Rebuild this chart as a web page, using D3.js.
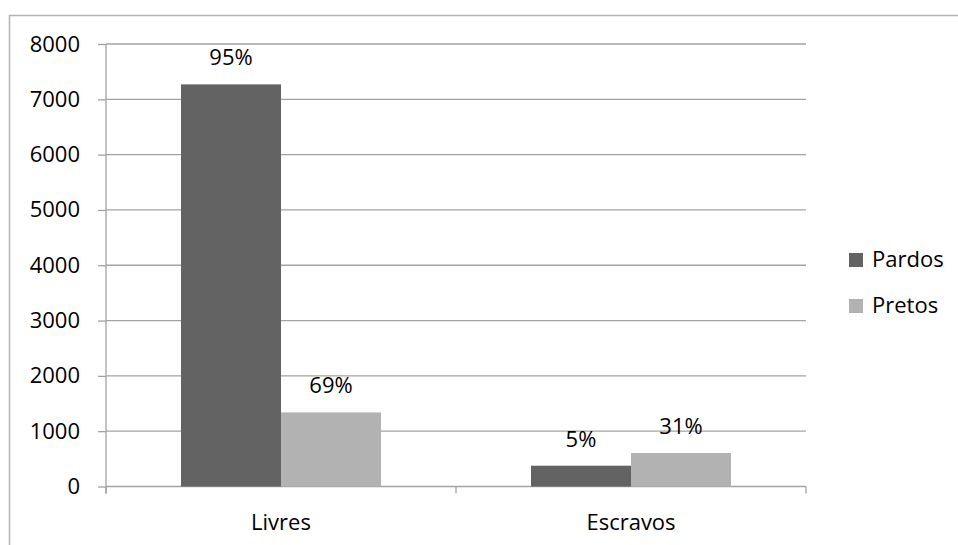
<!DOCTYPE html>
<html>
<head>
<meta charset="utf-8">
<script src="https://cdn.jsdelivr.net/npm/d3@7"></script>
<style>
  html, body { margin: 0; padding: 0; background: #fff; }
  svg { display: block; font-family: "Open Sans", sans-serif; }
</style>
</head>
<body>
<svg id="chart" width="958" height="545"></svg>
<script>
// Population by condition (free / enslaved) and colour
const categories = ["Livres", "Escravos"];
const seriesNames = ["Pardos", "Pretos"];
const pardosValues = [7270, 376];
const pretosValues = [1340, 605];
const pardosLabels = ["95%", "5%"];
const pretosLabels = ["69%", "31%"];
const yTicks = [0, 1000, 2000, 3000, 4000, 5000, 6000, 7000, 8000];
const colors = ["#636363", "#b2b2b2"];

const series = [
  { name: seriesNames[0], values: pardosValues, labels: pardosLabels, color: colors[0] },
  { name: seriesNames[1], values: pretosValues, labels: pretosLabels, color: colors[1] }
];

const svg = d3.select("#chart");
const plot = { left: 106, right: 806, top: 44, bottom: 486.5 };
const gridColor = "#a3a3a3";
const fontSize = 22;

// Outer frame
svg.append("rect")
  .attr("x", 9.5).attr("y", 15.5)
  .attr("width", 960).attr("height", 540)
  .attr("fill", "none").attr("stroke", "#b4b4b4").attr("stroke-width", 1.5);

const y = d3.scaleLinear().domain([0, 8000]).range([plot.bottom, plot.top]);
const x0 = d3.scaleBand().domain(categories).range([plot.left, plot.right]).paddingInner(0).paddingOuter(0);
const x1 = d3.scaleBand().domain(seriesNames).range([0, x0.bandwidth()]).paddingInner(0).paddingOuter(0.75);

// Horizontal gridlines with tick stubs to the left of the axis
const yAxis = d3.axisLeft(y).tickValues(yTicks).tickSize(8).tickPadding(18)
  .tickFormat(d3.format("d"));
const gy = svg.append("g").attr("transform", `translate(${plot.left},0)`).call(yAxis);
gy.select(".domain").remove();
gy.selectAll(".tick line").attr("stroke", gridColor).attr("stroke-width", 1.3);
gy.selectAll(".tick text").attr("font-size", fontSize).attr("fill", "#000")
  .attr("font-family", "'Open Sans', sans-serif");

svg.append("g").selectAll("line.grid")
  .data(yTicks)
  .join("line")
  .attr("x1", plot.left).attr("x2", plot.right)
  .attr("y1", d => y(d)).attr("y2", d => y(d))
  .attr("stroke", gridColor).attr("stroke-width", 1.3);

// Bars
const groups = svg.append("g").selectAll("g")
  .data(categories)
  .join("g")
  .attr("transform", c => `translate(${x0(c)},0)`);

groups.selectAll("rect")
  .data((c, i) => series.map(s => ({ s, v: s.values[i], label: s.labels[i] })))
  .join("rect")
  .attr("x", d => x1(d.s.name))
  .attr("width", x1.bandwidth())
  .attr("y", d => y(d.v))
  .attr("height", d => y(0) - y(d.v))
  .attr("fill", d => d.s.color);

groups.selectAll("text")
  .data((c, i) => series.map(s => ({ s, v: s.values[i], label: s.labels[i] })))
  .join("text")
  .attr("x", d => x1(d.s.name) + x1.bandwidth() / 2)
  .attr("y", d => y(d.v) - 19)
  .attr("text-anchor", "middle")
  .attr("font-size", fontSize)
  .attr("fill", "#000")
  .text(d => d.label);

// Vertical axis line and category axis
svg.append("line")
  .attr("x1", plot.left).attr("x2", plot.left)
  .attr("y1", plot.top).attr("y2", plot.bottom + 7)
  .attr("stroke", gridColor).attr("stroke-width", 1.3);

const xAxis = d3.axisBottom(x0).tickSize(0).tickPadding(28);
const gx = svg.append("g").attr("transform", `translate(0,${plot.bottom})`).call(xAxis);
gx.select(".domain").remove();
gx.selectAll(".tick text").attr("font-size", fontSize).attr("fill", "#000")
  .attr("font-family", "'Open Sans', sans-serif");

// Category separators below the baseline
const sepX = [plot.left, ...categories.map(c => x0(c) + x0.bandwidth())];
svg.append("g").selectAll("line")
  .data(sepX)
  .join("line")
  .attr("x1", d => d).attr("x2", d => d)
  .attr("y1", plot.bottom).attr("y2", plot.bottom + 7)
  .attr("stroke", gridColor).attr("stroke-width", 1.3);

// Legend
const legend = svg.append("g").attr("transform", "translate(849,253)");
const items = legend.selectAll("g")
  .data(series)
  .join("g")
  .attr("transform", (d, i) => `translate(0,${i * 46})`);
items.append("rect")
  .attr("width", 14).attr("height", 14)
  .attr("fill", d => d.color);
items.append("text")
  .attr("x", 23).attr("y", 14)
  .attr("font-size", fontSize)
  .attr("fill", "#000")
  .text(d => d.name);
</script>
</body>
</html>
